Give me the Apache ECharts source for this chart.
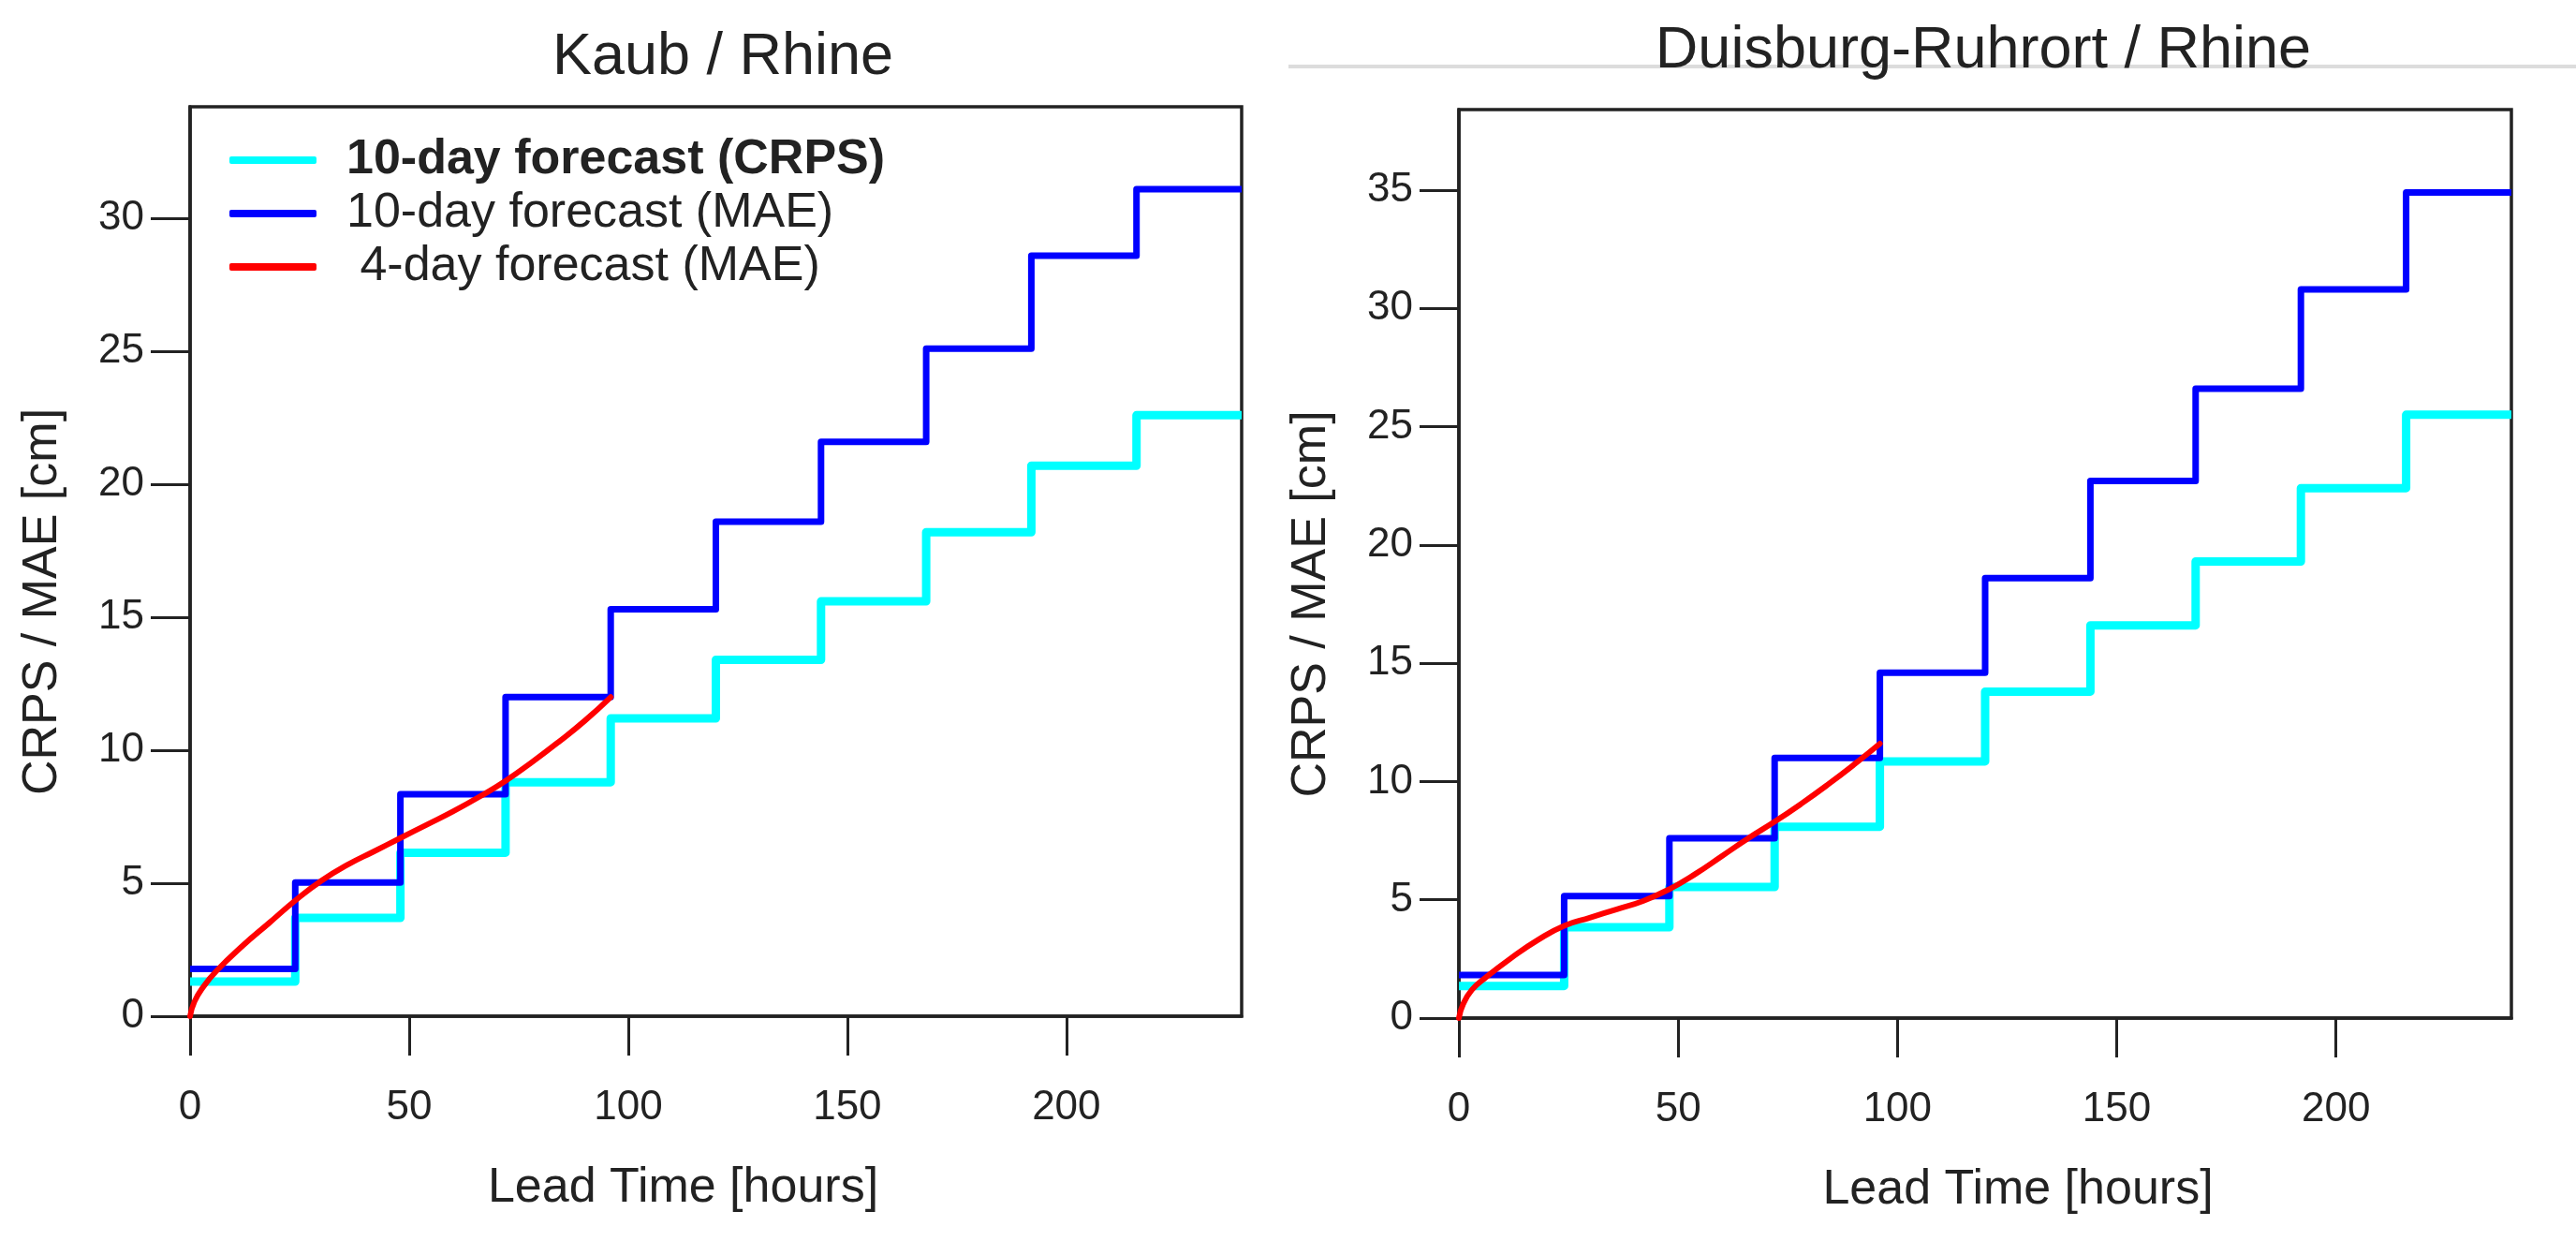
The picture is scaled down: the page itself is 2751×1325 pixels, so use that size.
<!DOCTYPE html>
<html>
<head>
<meta charset="utf-8">
<script src="https://cdn.jsdelivr.net/npm/echarts@6/dist/echarts.min.js"></script>
<style>
  html, body { margin: 0; padding: 0; background: #ffffff; }
  #chart { width: 2751px; height: 1325px; }
</style>
</head>
<body>
<div id="chart"></div>
<script>
// ---------- data ----------
const panelTitles = ['Kaub / Rhine', 'Duisburg-Ruhrort / Rhine'];
const seriesNames = ['10-day forecast (CRPS)', '10-day forecast (MAE)', '4-day forecast (MAE)'];
const xTicks = [0, 50, 100, 150, 200];
const yTicksKaub = [0, 5, 10, 15, 20, 25, 30];
const yTicksDuis = [0, 5, 10, 15, 20, 25, 30, 35];

// daily step start times [hours] and the end of the 10-day horizon
const leadStart = [0, 24, 48, 72, 96, 120, 144, 168, 192, 216];
const leadEnd = 240;

// Kaub
const kaubCRPS  = [1.30, 3.70, 6.15, 8.80, 11.2, 13.4, 15.6, 18.2, 20.7, 22.6];
const kaubMAE10 = [1.78, 5.03, 8.35, 12.0, 15.3, 18.6, 21.6, 25.1, 28.6, 31.1];
const kaub4Hours = [0, 1, 3, 6, 12, 18, 24, 30, 36, 42, 48, 54, 60, 66, 72, 78, 84, 90, 96];
const kaub4MAE   = [0, 0.55, 1.1, 1.7, 2.65, 3.5, 4.35, 5.1, 5.7, 6.2, 6.7, 7.2, 7.7, 8.25, 8.85, 9.55, 10.3, 11.1, 12.0];

// Duisburg-Ruhrort
const duisCRPS  = [1.36, 3.84, 5.54, 8.09, 10.85, 13.8, 16.6, 19.3, 22.4, 25.5];
const duisMAE10 = [1.82, 5.16, 7.6, 11.0, 14.6, 18.6, 22.7, 26.6, 30.8, 34.9];
const duis4Hours = [0, 1, 3, 6, 12, 18, 24, 30, 36, 42, 48, 54, 60, 66, 72, 78, 84, 90, 96];
const duis4MAE   = [0, 0.6, 1.2, 1.7, 2.55, 3.3, 3.9, 4.25, 4.6, 4.95, 5.45, 6.1, 6.85, 7.6, 8.3, 9.05, 9.85, 10.7, 11.6];

// ---------- helpers ----------
function stepPoints(values) {
  const pts = leadStart.map((h, i) => [h, values[i]]);
  pts.push([leadEnd, values[values.length - 1]]);
  return pts;
}
function curvePoints(hours, values) {
  return hours.map((h, i) => [h, values[i]]);
}

const FONT = "'Liberation Sans', Arial, Helvetica, sans-serif";
const INK = '#222222';
const COLORS = ['#00FFFF', '#0000FF', '#FF0000'];
const WIDTHS = [9, 7, 6];

function xAxisFor(gridIndex, nameShift) {
  return {
    type: 'value', gridIndex: gridIndex, min: 0, max: 240,
    name: 'Lead Time [hours]', nameLocation: 'middle', nameGap: 158,
    nameTextStyle: { fontFamily: FONT, fontSize: 52, color: INK,
      padding: nameShift < 0 ? [0, -2 * nameShift, 0, 0] : [0, 0, 0, 2 * nameShift] },
    axisLine: { show: true, onZero: false, lineStyle: { color: INK, width: 3.5 } },
    axisTick: { show: true, inside: false, length: 42, customValues: xTicks, lineStyle: { color: INK, width: 3 } },
    axisLabel: { show: true, customValues: xTicks, margin: 76, fontFamily: FONT, fontSize: 44, color: INK },
    splitLine: { show: false }
  };
}
function yAxisFor(gridIndex, maxV, ticks) {
  return {
    type: 'value', gridIndex: gridIndex, min: 0, max: maxV,
    name: 'CRPS / MAE [cm]', nameLocation: 'middle', nameGap: 131, nameRotate: 90,
    nameTextStyle: { fontFamily: FONT, fontSize: 52, color: INK, padding: [0, 86, 0, 0] },
    axisLine: { show: true, onZero: false, lineStyle: { color: INK, width: 3.5 } },
    axisTick: { show: true, inside: false, length: 42, customValues: ticks, lineStyle: { color: INK, width: 3 } },
    axisLabel: { show: true, customValues: ticks, margin: 49, fontFamily: FONT, fontSize: 44, color: INK },
    splitLine: { show: false }
  };
}
function seriesFor(idx, crps, mae10, h4, mae4) {
  const common = { type: 'line', xAxisIndex: idx, yAxisIndex: idx, showSymbol: false, symbol: 'none', silent: true, animation: false };
  return [
    Object.assign({}, common, { name: seriesNames[0], step: 'end', data: stepPoints(crps),
      lineStyle: { color: COLORS[0], width: WIDTHS[0], join: 'round' }, itemStyle: { color: COLORS[0] }, z: 2 }),
    Object.assign({}, common, { name: seriesNames[1], step: 'end', data: stepPoints(mae10),
      lineStyle: { color: COLORS[1], width: WIDTHS[1], join: 'round' }, itemStyle: { color: COLORS[1] }, z: 3 }),
    Object.assign({}, common, { name: seriesNames[2], smooth: 0.5, data: curvePoints(h4, mae4),
      lineStyle: { color: COLORS[2], width: WIDTHS[2], cap: 'round', join: 'round' }, itemStyle: { color: COLORS[2] }, z: 4 })
  ];
}

const chart = echarts.init(document.getElementById('chart'), null, { renderer: 'canvas', width: 2751, height: 1325 });
const option = {
  backgroundColor: '#ffffff',
  animation: false,
  textStyle: { fontFamily: FONT },
  title: [
    { text: panelTitles[0], left: 772, top: 30, textAlign: 'center', padding: 0, z: 10,
      textStyle: { fontFamily: FONT, fontSize: 63, fontWeight: 'normal', color: INK } },
    { text: panelTitles[1], left: 2118, top: 23, textAlign: 'center', padding: 0, z: 10,
      textStyle: { fontFamily: FONT, fontSize: 63, fontWeight: 'normal', color: INK } }
  ],
  graphic: [
    { type: 'line', z: 0, silent: true, shape: { x1: 1376, y1: 71, x2: 2751, y2: 71 },
      style: { stroke: '#dcdcdc', lineWidth: 4 } }
  ],
  legend: {
    show: true, orient: 'vertical', left: 245, top: 145, padding: 0,
    itemWidth: 93, itemHeight: 8, itemGap: 5, icon: 'roundRect',
    selectedMode: false,
    textStyle: { fontFamily: FONT, fontSize: 52, lineHeight: 52, color: INK, padding: [0, 0, 0, 27] },
    data: [
      { name: seriesNames[0], textStyle: { fontWeight: 'bold' } },
      { name: seriesNames[1] },
      { name: seriesNames[2] }
    ],
    formatter: function (name) { return name === seriesNames[2] ? ' ' + name : name; }
  },
  grid: [
    { left: 203, top: 114, width: 1123, height: 971, show: true, borderColor: INK, borderWidth: 3.5,
      backgroundColor: 'transparent', containLabel: false, outerBoundsMode: 'none' },
    { left: 1558, top: 117, width: 1124, height: 970, show: true, borderColor: INK, borderWidth: 3.5,
      backgroundColor: 'transparent', containLabel: false, outerBoundsMode: 'none' }
  ],
  xAxis: [ xAxisFor(0, -35), xAxisFor(1, 35) ],
  yAxis: [ yAxisFor(0, 34.2, yTicksKaub), yAxisFor(1, 38.4, yTicksDuis) ],
  series: [].concat(
    seriesFor(0, kaubCRPS, kaubMAE10, kaub4Hours, kaub4MAE),
    seriesFor(1, duisCRPS, duisMAE10, duis4Hours, duis4MAE)
  )
};
chart.setOption(option);
</script>
</body>
</html>
